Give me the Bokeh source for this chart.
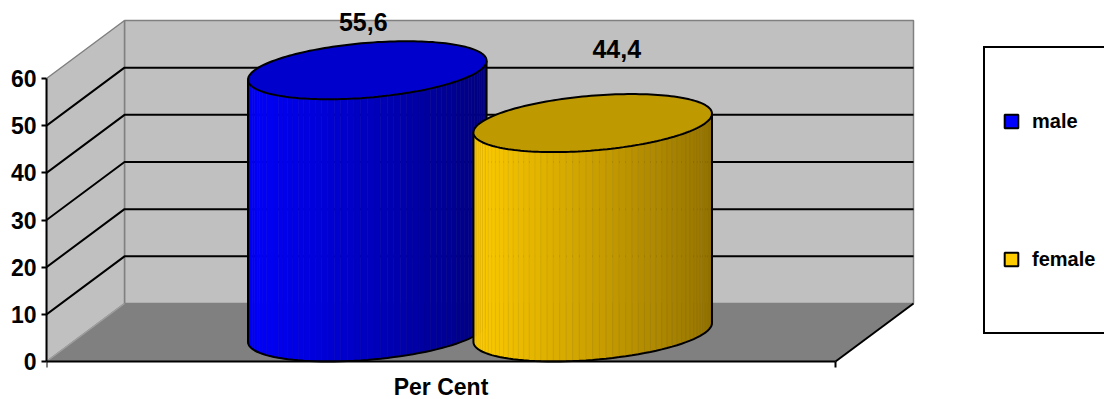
import numpy as np
from bokeh.plotting import figure
from bokeh.models import Range1d, FixedTicker, Legend, LegendItem, ColumnDataSource
from bokeh.core.properties import value
from bokeh.embed import file_html
from bokeh.resources import INLINE

# ---- data ----
category = "Per Cent"
series_names = ["male", "female"]
series_values = [55.6, 44.4]
value_labels = ["55,6", "44,4"]
y_ticks = [0, 10, 20, 30, 40, 50, 60]

# ---- styling ----
FONT = "Liberation Sans"
light_rgb = [(0, 0, 255), (255, 204, 0)]
dark_rgb = [(0, 0, 128), (150, 116, 0)]
top_colors = ["#0000CC", "#BF9900"]
legend_colors = ["#0000FF", "#FFCC00"]
label_nudge_x = [-4, 24]    # pixel nudges of the value labels
label_nudge_y = [48, 74]

# canvas / frame layout in pixels
W, H = 1104, 399
BORDER_L = 46
FLOOR_PX = 361          # pixel row of the value 0 on the front plane
FRAME_W = W - BORDER_L
AXIS_PX = 789           # length of the category axis
VALUE_PX = 283          # pixels covered by the value axis
DEPTH_PX = (78, 58)     # oblique shift of the back plane

y_max = y_ticks[-1]
per_px = y_max / VALUE_PX
x_end = FRAME_W / AXIS_PX
y_start = -(H - FLOOR_PX) * per_px
y_end = FLOOR_PX * per_px
ddx = DEPTH_PX[0] / AXIS_PX
ddy = DEPTH_PX[1] * per_px


def proj(x, z, y):
    """Oblique projection: z = 0 front plane, z = 1 back plane."""
    return x + ddx * z, y + ddy * z


def hexcol(rgb):
    return "#%02x%02x%02x" % tuple(int(round(c)) for c in rgb)


p = figure(width=W, height=H, x_range=Range1d(0, x_end), y_range=Range1d(y_start, y_end),
           output_backend="svg", toolbar_location=None, x_axis_location=None,
           min_border_left=BORDER_L, min_border_right=0, min_border_top=0,
           min_border_bottom=0)
p.outline_line_color = None
p.xgrid.grid_line_color = None
p.ygrid.grid_line_color = None
p.background_fill_color = "white"
p.border_fill_color = "white"

# ---- walls and floor ----
wall_fill, wall_edge, floor_fill = "#C0C0C0", "#808080", "#808080"
bx0, by0 = proj(0, 1, 0)
bx1, by1 = proj(1, 1, y_max)
p.quad(left=bx0, right=bx1, bottom=by0, top=by1, fill_color=wall_fill,
       line_color=wall_edge, line_width=1.5)
sx, sy = zip(proj(0, 0, 0), proj(0, 1, 0), proj(0, 1, y_max), proj(0, 0, y_max))
p.patch(list(sx), list(sy), fill_color=wall_fill, line_color=wall_edge, line_width=1.5)
fx, fy = zip(proj(0, 0, 0), proj(1, 0, 0), proj(1, 1, 0), proj(0, 1, 0))
p.patch(list(fx), list(fy), fill_color=floor_fill, line_color=None)
# floor edges
ex, ey = zip(proj(0, 0, 0), proj(0, 1, 0))
p.line(list(ex), list(ey), line_color="#a0a0a0", line_width=1.2)
ex, ey = zip(proj(1, 0, 0), proj(1, 1, 0))
p.line(list(ex), list(ey), line_color="black", line_width=2)

# gridlines on side and back walls
gx, gy = [], []
for t in y_ticks[1:-1]:
    a = proj(0, 0, t)
    b = proj(0, 1, t)
    c = proj(1, 1, t)
    gx.append([a[0], b[0], c[0]])
    gy.append([a[1], b[1], c[1]])
p.multi_line(gx, gy, line_color="black", line_width=2)

# ---- cylinders ----
n = len(series_values)
gap_width = 1.5
bar_w = 1 / (n + gap_width)
centers = [0.5 + (i - (n - 1) / 2) * bar_w for i in range(n)]
radius = bar_w / 2
theta0 = np.arctan2(0.5 * ddx, radius)
n_facets = 56
thetas = np.linspace(np.pi + theta0, 2 * np.pi + theta0, n_facets + 1)

for i, (cx, v) in enumerate(zip(centers, series_values)):
    ring_x = cx + radius * np.cos(thetas)
    ring_z = 0.5 + 0.5 * np.sin(thetas)
    bot_x, bot_y = proj(ring_x, ring_z, 0.0)
    top_x, top_y = proj(ring_x, ring_z, v)
    left_edge, right_edge = bot_x.min(), bot_x.max()
    xs, ys, fills, edges = [], [], [], []
    lo, hi = np.array(light_rgb[i], float), np.array(dark_rgb[i], float)
    for k in range(n_facets):
        xs.append([bot_x[k], bot_x[k + 1], top_x[k + 1], top_x[k]])
        ys.append([bot_y[k], bot_y[k + 1], top_y[k + 1], top_y[k]])
        t = ((bot_x[k] + bot_x[k + 1]) / 2 - left_edge) / (right_edge - left_edge)
        col = lo + (hi - lo) * t
        fills.append(hexcol(col))
        edges.append(hexcol(col * 0.93))
    src = ColumnDataSource(dict(xs=xs, ys=ys, fill=fills, edge=edges))
    p.patches("xs", "ys", source=src, fill_color="fill", line_color="edge",
              line_width=0.6)
    # silhouette of the side
    ox = [top_x[0]] + list(bot_x) + [top_x[-1]]
    oy = [top_y[0]] + list(bot_y) + [top_y[-1]]
    p.line(ox, oy, line_color="black", line_width=2)
    # top face
    full = np.linspace(0, 2 * np.pi, 181)
    cap_x, cap_y = proj(cx + radius * np.cos(full), 0.5 + 0.5 * np.sin(full), v)
    p.patch(list(cap_x), list(cap_y), fill_color=top_colors[i], line_color="black",
            line_width=2)

# value labels above the cylinders
lab_x, lab_y = proj(np.array(centers), 0.5, np.array(series_values))
lab_src = ColumnDataSource(dict(x=list(lab_x), y=list(lab_y), text=value_labels,
                                xo=label_nudge_x, yo=[-d for d in label_nudge_y]))
p.text(x="x", y="y", text="text", x_offset="xo", y_offset="yo", source=lab_src,
       text_font=value(FONT), text_font_style="bold", text_font_size="25px",
       text_align="center", text_baseline="alphabetic", text_color="black")

# ---- category axis along the front edge of the floor ----
tick_len = 6 * per_px
p.line([0, 1], [0, 0], line_color="black", line_width=2)
p.segment(x0=[0, 1], y0=[0, 0], x1=[0, 1], y1=[-tick_len, -tick_len],
          line_color="black", line_width=2)
p.text(x=[0.5], y=[0], text=[category], y_offset=25,
       text_font=value(FONT), text_font_style="bold", text_font_size="23px",
       text_align="center", text_baseline="alphabetic", text_color="black")

# ---- value axis ----
p.yaxis.ticker = FixedTicker(ticks=y_ticks)
p.yaxis.bounds = (0, y_max)
p.yaxis.axis_line_width = 2
p.yaxis.axis_line_color = "black"
p.yaxis.major_tick_line_width = 2
p.yaxis.major_tick_out = 5
p.yaxis.major_tick_in = 0
p.yaxis.minor_tick_line_color = None
p.yaxis.major_label_standoff = 5
p.yaxis.major_label_text_font = FONT
p.yaxis.major_label_text_font_style = "bold"
p.yaxis.major_label_text_font_size = "23px"
p.yaxis.major_label_text_color = "black"

# ---- legend ----
legend_items = []
for name, col in zip(series_names, legend_colors):
    r = p.scatter(x=[np.nan], y=[np.nan], marker="square", size=11, fill_color=col,
                  line_color="black", line_width=2)
    legend_items.append(LegendItem(label=name, renderers=[r]))

legend = Legend(items=legend_items, location=(937, H - FLOOR_PX + 27),
                orientation="vertical",
                padding=9, spacing=10, glyph_width=34, glyph_height=128,
                label_standoff=4, label_width=100, margin=0,
                border_line_color="black", border_line_width=2, border_line_alpha=1,
                background_fill_color="white", background_fill_alpha=1,
                label_text_font=FONT, label_text_font_style="bold",
                label_text_font_size="20px", label_text_color="black")
p.add_layout(legend)

open("out.html", "w").write(file_html(p, INLINE))
